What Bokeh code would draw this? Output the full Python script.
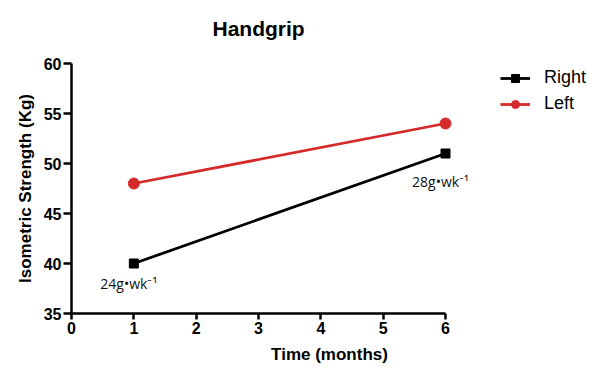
from bokeh.plotting import figure
from bokeh.models import Range1d, Legend, LegendItem, FixedTicker, ColumnDataSource
from bokeh.core.properties import value
from bokeh.embed import file_html
from bokeh.resources import INLINE

months = [1, 6]
right_vals = [40, 51]
left_vals = [48, 54]
rate_labels = ["24g•wk⁻¹", "28g•wk⁻¹"]
x_ticks = [0, 1, 2, 3, 4, 5, 6]
y_ticks = [35, 40, 45, 50, 55, 60]

RED = "#d42a2a"
FONT = "Liberation Sans"

W, H = 587, 366
L, T, B = 71, 63, 53
px_per_unit = (445 - 71) / 6.0
x_end = (W - L) / px_per_unit

p = figure(width=W, height=H, output_backend="svg", toolbar_location=None,
           x_range=Range1d(0, x_end), y_range=Range1d(35, 60),
           min_border_left=L, min_border_right=0, min_border_top=T, min_border_bottom=B)
p.outline_line_color = None
p.grid.visible = False
p.background_fill_color = "white"

p.title.text = "Handgrip\n"
p.title.align = "left"
p.title.offset = 141
p.title.text_font = FONT
p.title.text_font_size = "21px"
p.title.text_font_style = "bold"
p.title.text_color = "black"
p.title.standoff = 2

for ax in (p.xaxis[0], p.yaxis[0]):
    ax.axis_line_width = 2.5
    ax.axis_line_color = "black"
    ax.major_tick_line_width = 2.5
    ax.major_tick_in = 0
    ax.minor_tick_line_color = None
    ax.major_label_text_font = FONT
    ax.major_label_text_font_style = "bold"
    ax.major_label_text_font_size = "16px"
    ax.major_label_text_color = "black"
    ax.axis_label_text_font = FONT
    ax.axis_label_text_font_style = "bold"
    ax.axis_label_text_font_size = "17px"
    ax.axis_label_text_color = "black"

p.xaxis.major_tick_out = 6
p.yaxis.major_tick_out = 8
p.xaxis.bounds = (0, 6)
p.xaxis.ticker = FixedTicker(ticks=x_ticks)
p.yaxis.ticker = FixedTicker(ticks=y_ticks)
p.xaxis.axis_label = "Time (months)"
p.yaxis.axis_label = "Isometric Strength (Kg)"
p.xaxis.major_label_standoff = 2
p.yaxis.major_label_standoff = 2
p.xaxis.axis_label_standoff = 8
p.yaxis.axis_label_standoff = 6

r_line = p.line(months, right_vals, line_color="black", line_width=2.8)
r_pts = p.scatter(months, right_vals, marker="square", size=9, fill_color="black", line_color="black")
l_line = p.line(months, left_vals, line_color=RED, line_width=2.8)
l_pts = p.scatter(months, left_vals, marker="circle", size=11, fill_color=RED, line_color=RED)

src1 = ColumnDataSource(dict(x=[months[0]], y=[right_vals[0]], t=[rate_labels[0]]))
src2 = ColumnDataSource(dict(x=[months[1]], y=[right_vals[1]], t=[rate_labels[1]]))
p.text(x="x", y="y", text="t", source=src1, x_offset=-5, y_offset=20,
       text_align="center", text_baseline="middle", text_font=value("Open Sans"),
       text_font_size="14px", text_color="#111111")
p.text(x="x", y="y", text="t", source=src2, x_offset=-5, y_offset=28,
       text_align="center", text_baseline="middle", text_font=value("Open Sans"),
       text_font_size="14px", text_color="#111111")

legend = Legend(items=[LegendItem(label="Right", renderers=[r_line, r_pts]),
                       LegendItem(label="Left", renderers=[l_line, l_pts])],
                location=(429, 199), border_line_color=None, background_fill_alpha=0,
                padding=0, margin=0, spacing=5, label_height=20, label_text_font=FONT,
                label_text_font_size="18px", label_text_color="black",
                glyph_width=30, label_standoff=14)
p.add_layout(legend, "center")

open("out.html", "w").write(file_html(p, INLINE))
